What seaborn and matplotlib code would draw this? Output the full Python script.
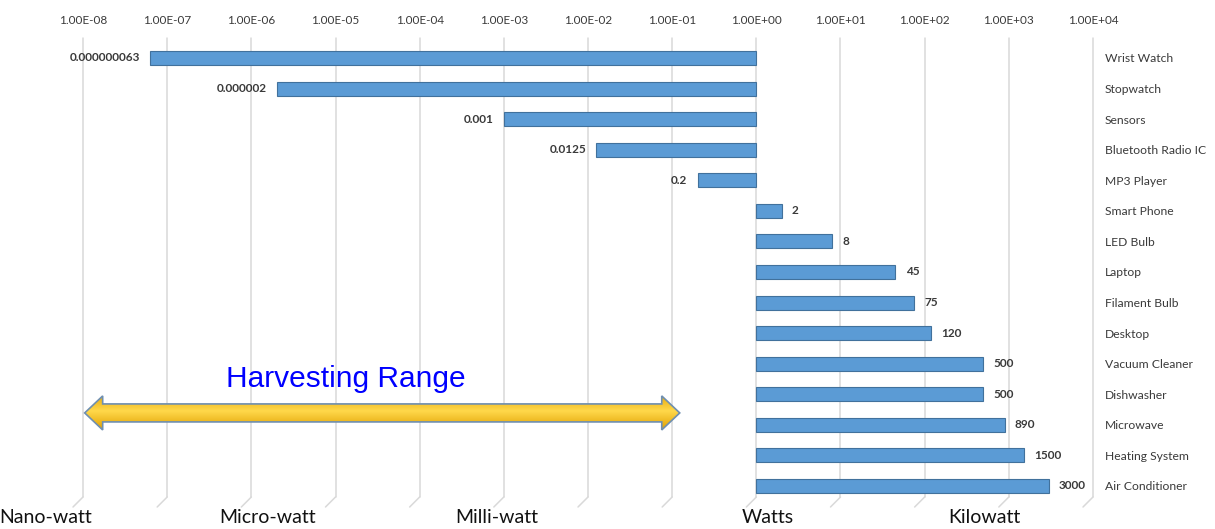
import numpy as np
import pandas as pd
import matplotlib
matplotlib.use("Agg")
import matplotlib.pyplot as plt
import seaborn as sns
from matplotlib.patches import Polygon
from matplotlib.colors import LinearSegmentedColormap

# ---------------- data ----------------
devices = ["Wrist Watch", "Stopwatch", "Sensors", "Bluetooth Radio IC", "MP3 Player",
           "Smart Phone", "LED Bulb", "Laptop", "Filament Bulb", "Desktop",
           "Vacuum Cleaner", "Dishwasher", "Microwave", "Heating System", "Air Conditioner"]
power_w = [0.000000063, 0.000002, 0.001, 0.0125, 0.2,
           2, 8, 45, 75, 120,
           500, 500, 890, 1500, 3000]
value_labels = ["0.000000063", "0.000002", "0.001", "0.0125", "0.2",
                "2", "8", "45", "75", "120",
                "500", "500", "890", "1500", "3000"]
decades = list(range(-8, 5))
tick_labels = ["1.00E-08", "1.00E-07", "1.00E-06", "1.00E-05", "1.00E-04", "1.00E-03",
               "1.00E-02", "1.00E-01", "1.00E+00", "1.00E+01", "1.00E+02", "1.00E+03",
               "1.00E+04"]
scale_names = ["Nano-watt", "Micro-watt", "Milli-watt", "Watts", "Kilowatt"]
scale_centers = [-8.45, -5.81, -3.08, 0.14, 2.71]   # label centres, in decades
harvest_range = [-7.98, -0.91]                       # arrow extent, in decades

df = pd.DataFrame({"device": devices, "log_power": np.log10(power_w), "label": value_labels})

# ---------------- style ----------------
sns.set_theme(style="white")
plt.rcParams["font.family"] = ["Lato", "DejaVu Sans"]

W, H = 1215, 529
fig = plt.figure(figsize=(W / 100, H / 100), dpi=100)
left_px, right_px, top_px, bottom_px = 83, 1093, 38, 497
ax = fig.add_axes([left_px / W, 1 - bottom_px / H, (right_px - left_px) / W,
                   (bottom_px - top_px) / H])

grid_c = "#d9d9d9"
txt_c = "#3a3a3a"
bar_c = "#5b9bd5"

sns.barplot(data=df, x="log_power", y="device", orient="h", color=bar_c,
            saturation=1, width=0.46, edgecolor="#41719c", linewidth=0.8,
            ax=ax, zorder=3)

ymin, ymax = -0.654, 14.36
ax.set_xlim(-8, 4)
ax.set_ylim(ymax, ymin)

for s in ax.spines.values():
    s.set_visible(False)

ax.set_xlabel("")
ax.set_ylabel("")

# top tick labels
ax.xaxis.tick_top()
ax.set_xticks(decades)
ax.set_xticklabels(tick_labels)
ax.tick_params(axis="x", length=0, pad=9, labelsize=8.5, labelcolor=txt_c)

# right category labels
ax.yaxis.tick_right()
ax.tick_params(axis="y", length=0, pad=8.5, labelsize=8.7, labelcolor=txt_c)

# grid
for t in decades:
    ax.axvline(t, color=grid_c, lw=1.1, zorder=0, clip_on=False)
    # little slanted floor ticks
    ax.plot([t, t - 10 / 84.2], [ymax, ymax + 10 / 30.57], color=grid_c, lw=1.1,
            clip_on=False, zorder=0)

# value labels
off = 0.12
for i, (lp, lab) in enumerate(zip(df["log_power"], df["label"])):
    if lp < 0:
        ax.text(lp - off, i, lab, ha="right", va="center", fontsize=8.5,
                color=txt_c, fontweight="bold")
    else:
        ax.text(lp + off, i, lab, ha="left", va="center", fontsize=8.5,
                color=txt_c, fontweight="bold")

# bottom scale names
for name, cx in zip(scale_names, scale_centers):
    ax.text(cx, ymax + 0.66, name, ha="center", va="center", fontsize=14,
            color="#111111", clip_on=False)

# harvesting range arrow
x0, x1 = harvest_range
yc = 11.61
px_x = 1 / 84.2
px_y = 1 / 30.57
hl = 18 * px_x
hh = 17 * px_y
sh = 9 * px_y
pts = [(x0, yc), (x0 + hl, yc - hh), (x0 + hl, yc - sh), (x1 - hl, yc - sh),
       (x1 - hl, yc - hh), (x1, yc), (x1 - hl, yc + hh), (x1 - hl, yc + sh),
       (x0 + hl, yc + sh), (x0 + hl, yc + hh)]
arrow = Polygon(pts, closed=True, facecolor="none", edgecolor="#6f8fb0", lw=1.2, zorder=5)
ax.add_patch(arrow)
grad = np.linspace(0, 1, 64)
grad = 1 - np.abs(grad - 0.45) * 1.4
cmap = LinearSegmentedColormap.from_list("gold", ["#e0a000", "#ffd84a"])
im = ax.imshow(grad[:, None], extent=[x0, x1, yc + hh, yc - hh], aspect="auto",
               cmap=cmap, zorder=4, interpolation="bilinear")
im.set_clip_path(Polygon(pts, closed=True, transform=ax.transData))
ax.set_xlim(-8, 4)
ax.set_ylim(ymax, ymin)

ax.text(-4.88, yc - 1.1, "Harvesting Range", ha="center", va="center",
        fontsize=21.5, color="#0000ff", family=["Liberation Sans", "DejaVu Sans"])

fig.savefig("out.png", dpi=100, facecolor="white")
